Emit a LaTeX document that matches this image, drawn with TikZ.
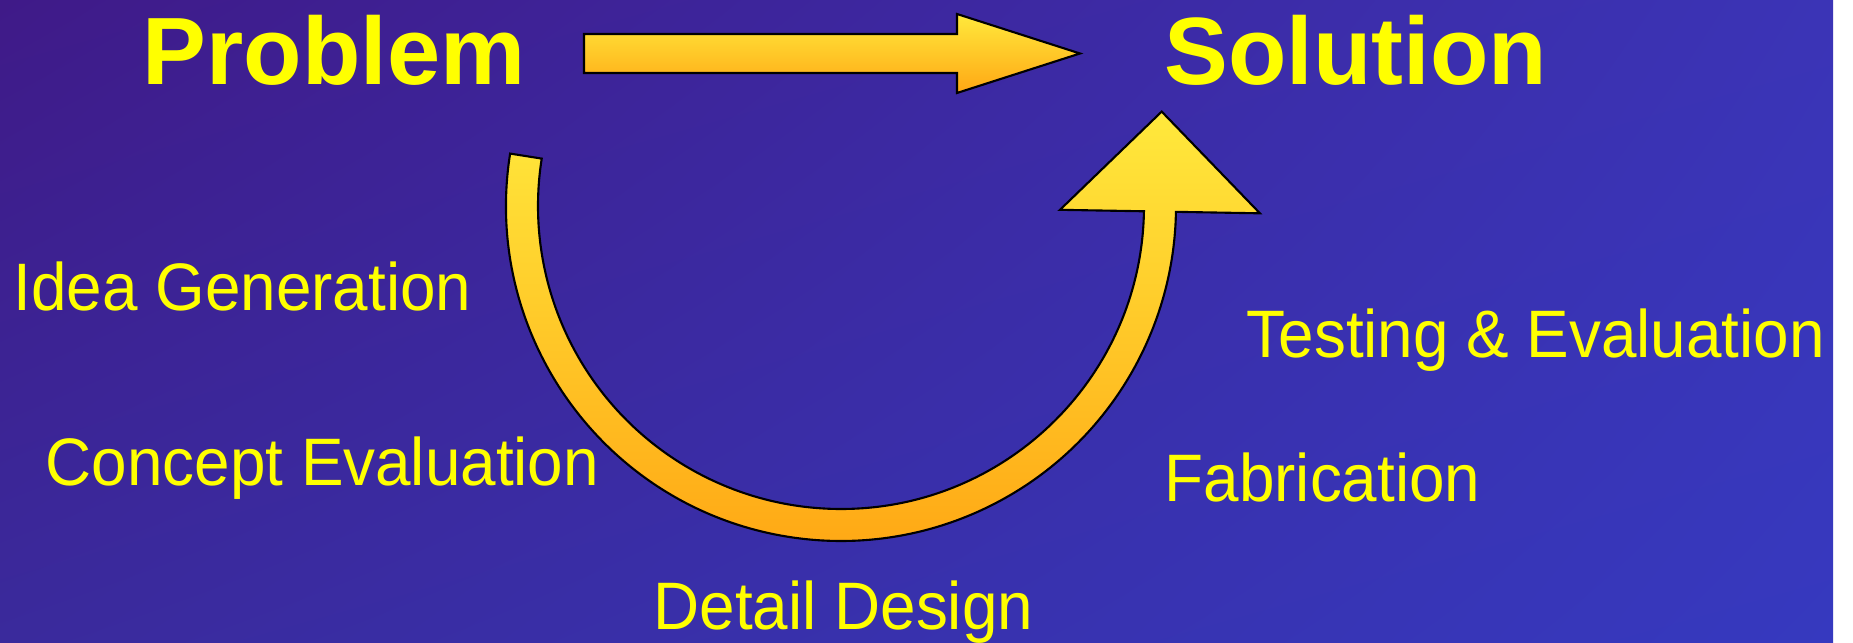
\documentclass[tikz,border=0pt]{standalone}
\usepackage{fontspec}
\setmainfont{Liberation Sans}
\newfontfamily\stagefont[FakeStretch=0.95]{Liberation Sans}
\usepackage{xcolor}
\definecolor{bgUL}{HTML}{3F1A88}
\definecolor{bgUR}{HTML}{3B34B6}
\definecolor{bgLL}{HTML}{3A2A9C}
\definecolor{bgLR}{HTML}{3639BF}
\definecolor{textyellow}{HTML}{FFFF00}
\definecolor{arrowtop}{HTML}{FFE93C}
\definecolor{arrowbottom}{HTML}{FFA714}
\usetikzlibrary{calc, shadings}

\begin{document}
\begin{tikzpicture}[
        x=0.01cm, y=-0.01cm,
        headline/.style={font=\fontsize{27.2}{30}\selectfont\bfseries, text=textyellow, inner sep=0pt, anchor=base west},
        stage/.style={font=\stagefont\fontsize{19.1}{22}\selectfont, text=textyellow, inner sep=0pt, anchor=base west},
        blockarrow/.style={draw=black, line width=0.6pt, line join=miter, top color=arrowtop, bottom color=arrowbottom}
    ]
        \useasboundingbox (0,0) rectangle (1853,643);
        \fill[white] (0,0) rectangle (1853,643);
        \shade[upper left=bgUL, upper right=bgUR, lower left=bgLL, lower right=bgLR] (0,0) rectangle (1833,643);

        % Headlines
        \node[headline] (problem) at (142,85) {Problem};
        \node[headline] (solution) at (1164,85) {Solution};

        % Straight arrow
        \path[blockarrow] (584,34) -- (957,34) -- (957,14) -- (1080,53.5) -- (957,93) -- (957,73) -- (584,73) -- cycle;

        % Design loop
        \coordinate (hub) at (841,206);
        \path[blockarrow] ($(hub)+(189:335)$) arc[start angle=189, end angle=1, radius=335]
            -- ($(hub)+(1:419)$) -- ($(hub)+(1:319)+(-89:100)$) -- ($(hub)+(1:219)$)
            -- ($(hub)+(1:303)$) arc[start angle=1, end angle=189, radius=303] -- cycle;

        % Stages
        \node[stage] (idea) at (13,311) {Idea Generation};
        \node[stage] (concept) at (45,486) {Concept Evaluation};
        \node[stage] (detail) at (653,630) {Detail Design};
        \node[stage] (fab) at (1164,502) {Fabrication};
        \node[stage] (testing) at (1246,358) {Testing \& Evaluation};
    \end{tikzpicture}
\end{document}
